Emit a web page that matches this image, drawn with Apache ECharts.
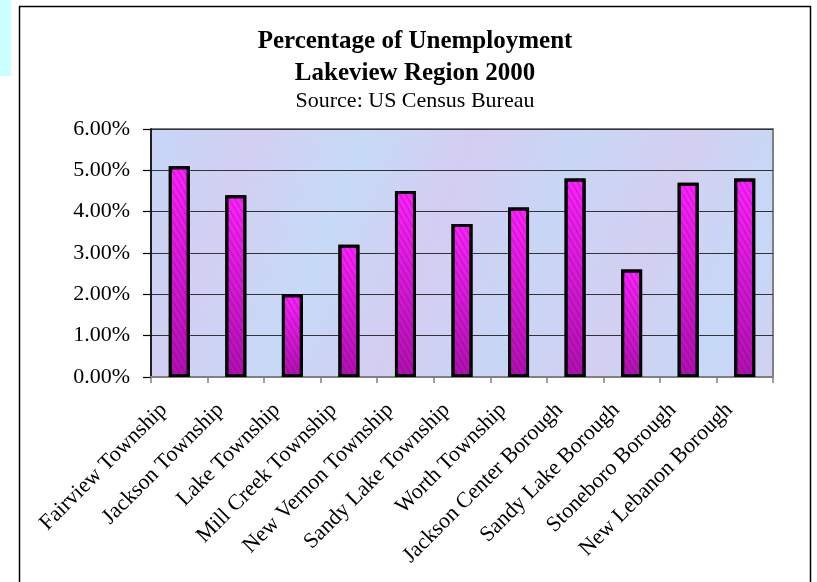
<!DOCTYPE html>
<html>
<head>
<meta charset="utf-8">
<script src="https://cdn.jsdelivr.net/npm/echarts@6/dist/echarts.min.js"></script>
<style>
html,body{margin:0;padding:0;background:#fff;}
#chart{width:817px;height:582px;}
</style>
</head>
<body>
<div id="chart"></div>
<script>
var categories = ['Fairview Township','Jackson Township','Lake Township','Mill Creek Township','New Vernon Township','Sandy Lake Township','Worth Township','Jackson Center Borough','Sandy Lake Borough','Stoneboro Borough','New Lebanon Borough'];
var unemploymentPct = [5.1, 4.4, 2.0, 3.2, 4.5, 3.7, 4.1, 4.8, 2.6, 4.7, 4.8];
var yTicks = [0, 1, 2, 3, 4, 5, 6];
var titleLines = ['Percentage of Unemployment', 'Lakeview Region 2000'];
var subtitle = 'Source: US Census Bureau';

var serif = '"Liberation Serif", "Times New Roman", serif';
var chart = echarts.init(document.getElementById('chart'));
chart.setOption({
  backgroundColor: '#ffffff',
  animation: false,
  graphic: [
    {type:'rect', shape:{x:0,y:0,width:11,height:76}, style:{fill:'#ccffff'}, z:-10},
    {type:'rect', shape:{x:19.5,y:6.5,width:791,height:620}, style:{fill:'none', stroke:'#000', lineWidth:1.5}, z:-5}
  ],
  title: {
    text: titleLines.join('\n'),
    subtext: subtitle,
    left: 415, top: 26, padding: 0, itemGap: 0,
    textAlign: 'center',
    textStyle: {fontFamily: serif, fontSize: 25, fontWeight: 'bold', color: '#000', lineHeight: 32},
    subtextStyle: {fontFamily: serif, fontSize: 22, color: '#000', lineHeight: 22}
  },
  grid: {
    left: 151, right: 44, top: 129, bottom: 205,
    show: true,
    borderColor: '#808080', borderWidth: 2,
    backgroundColor: {
      type: 'linear', x: 0, y: 0, x2: 1, y2: 1,
      colorStops: [
        {offset: 0, color: '#c6d6f7'},
        {offset: 0.15, color: '#d2cff2'},
        {offset: 0.3, color: '#c6daf7'},
        {offset: 0.45, color: '#d4cdf1'},
        {offset: 0.6, color: '#c8d6f6'},
        {offset: 0.75, color: '#d3cff1'},
        {offset: 0.9, color: '#c6d9f7'},
        {offset: 1, color: '#d2d0f1'}
      ]
    }
  },
  xAxis: {
    type: 'category',
    data: categories,
    axisLine: {show: true, lineStyle: {color: '#808080', width: 2}},
    axisTick: {show: true, length: 6, lineStyle: {color: '#808080', width: 1.5}},
    axisLabel: {rotate: 45, interval: 0, margin: 14, padding: [0, 22, 0, 0],
      fontFamily: serif, fontSize: 22, color: '#000'}
  },
  yAxis: {
    type: 'value',
    min: yTicks[0], max: yTicks[yTicks.length - 1], interval: 1,
    axisLine: {show: true, lineStyle: {color: '#000', width: 1.5}},
    axisTick: {show: true, length: 8, lineStyle: {color: '#000', width: 1.2}},
    splitLine: {show: true, lineStyle: {color: '#333', width: 1.2}},
    axisLabel: {margin: 21, fontFamily: serif, fontSize: 22, color: '#000',
      formatter: function (v) { return v.toFixed(2) + '%'; }}
  },
  series: [{
    type: 'bar',
    data: unemploymentPct,
    barWidth: 21,
    itemStyle: {
      borderColor: '#000', borderWidth: 3,
      color: {type: 'linear', x: 0, y: 0, x2: 0, y2: 1,
        colorStops: [{offset: 0, color: '#ff22ff'}, {offset: 1, color: '#b010b0'}]},
      decal: {
        symbol: 'rect', color: 'rgba(90,0,90,0.2)',
        dashArrayX: [1, 0], dashArrayY: [2, 3], rotation: Math.PI / 3
      }
    }
  }]
});
</script>
</body>
</html>
